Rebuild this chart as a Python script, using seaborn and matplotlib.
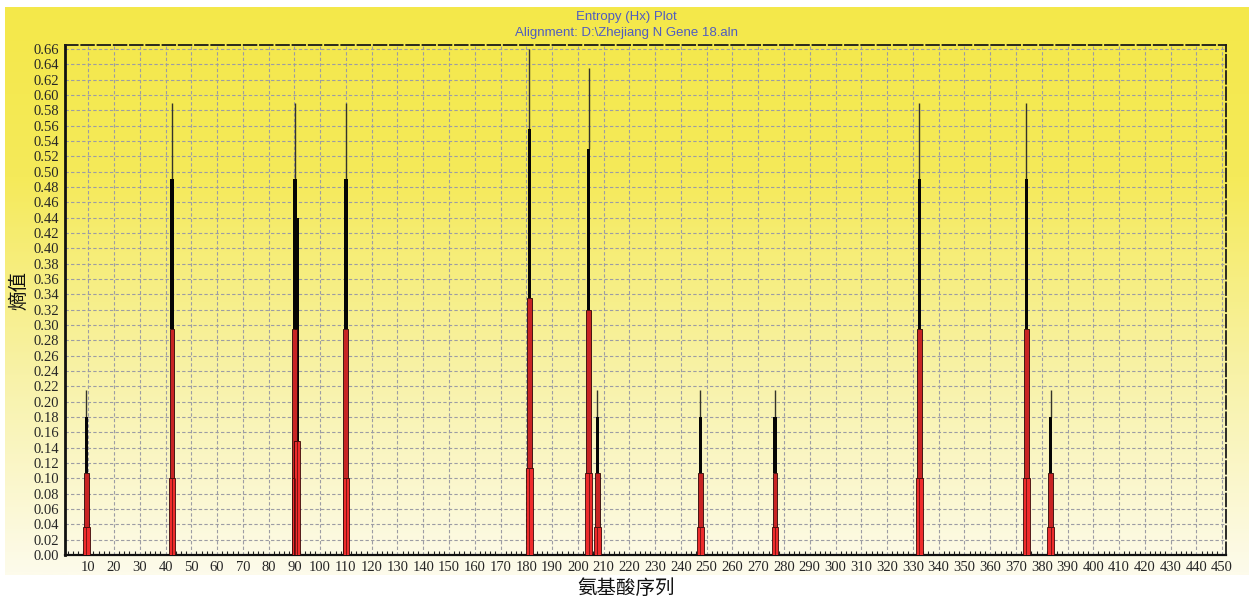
import numpy as np
import matplotlib

matplotlib.use("Agg")
import matplotlib.pyplot as plt
import seaborn as sns
from matplotlib.colors import LinearSegmentedColormap
from matplotlib.ticker import MultipleLocator

# residue positions with non-zero entropy
positions = [9.3, 42.5, 90.2, 91.0, 110.0, 181.2, 204.2, 207.6, 247.5, 276.5, 332.5, 374.0, 383.5]
# four entropy levels drawn as nested spikes (thin line, black bar, dark red bar, red base)
top_vals = [0.215, 0.59, 0.59, 0.44, 0.59, 0.66, 0.635, 0.215, 0.215, 0.215, 0.59, 0.59, 0.215]
black_vals = [0.18, 0.49, 0.49, 0.44, 0.49, 0.555, 0.53, 0.18, 0.18, 0.18, 0.49, 0.49, 0.18]
mid_vals = [0.107, 0.295, 0.295, 0.148, 0.295, 0.335, 0.32, 0.107, 0.107, 0.107, 0.295, 0.295, 0.107]
base_vals = [0.037, 0.10, 0.10, 0.148, 0.10, 0.113, 0.107, 0.037, 0.037, 0.037, 0.10, 0.10, 0.037]

x_ticks = list(range(10, 451, 10))
y_ticks = [round(v * 0.02, 2) for v in range(0, 34)]

sns.set_theme(style="white")
plt.rcParams["font.family"] = ["Liberation Serif", "Noto Sans CJK SC", "DejaVu Sans"]

fig = plt.figure(figsize=(12.49, 5.98), dpi=100, facecolor="white")

# yellow gradient backdrop
bg = fig.add_axes([5 / 1249, 23 / 598, 1244 / 1249, 568 / 598], zorder=-2)
grad_cmap = LinearSegmentedColormap.from_list(
    "yel", [(0.0, "#f4e84a"), (0.3, "#f5ea5a"), (0.65, "#f8f2a8"), (1.0, "#fdfbeb")]
)
bg.imshow(np.linspace(0, 1, 300).reshape(-1, 1), aspect="auto", cmap=grad_cmap,
          extent=[0, 1, 0, 1])
bg.set_axis_off()

ax = fig.add_axes([65 / 1249, 43 / 598, 1161 / 1249, 510 / 598])
ax.set_facecolor("none")

ax.set_xlim(1, 451.5)
ax.set_ylim(0, 0.665)

pos = np.array(positions)
top = np.array(top_vals)
blk = np.array(black_vals)
mid = np.array(mid_vals)
base = np.array(base_vals)

ax.vlines(pos, blk, top, color="#34342a", linewidth=1.0, zorder=2.5)
ax.bar(pos, blk - mid, bottom=mid, width=1.3, color="#050505", linewidth=0, zorder=3)
ax.bar(pos, mid, width=1.9, color="#c82424", edgecolor="#2a0505", linewidth=0.6, zorder=4)
ax.bar(pos, base, width=2.6, color="#ee2c2c", edgecolor="#3a0808", linewidth=0.6, zorder=5)
ax.vlines(pos, 0, base, color="#6a1010", linewidth=0.6, zorder=6)

ax.set_xticks(x_ticks)
ax.set_xticklabels([str(t) for t in x_ticks], fontsize=10.5)
ax.set_yticks(y_ticks)
ax.set_yticklabels([f"{t:.2f}" for t in y_ticks], fontsize=10.5)
ax.xaxis.set_minor_locator(MultipleLocator(2))
ax.tick_params(axis="x", which="minor", direction="in", length=3, width=0.8, color="#222222", bottom=True)
ax.tick_params(axis="both", which="major", length=0, pad=4)

ax.grid(True, which="major", color="#9c9ca4", linestyle=(0, (3, 2)), linewidth=0.8, zorder=1)
ax.set_axisbelow(True)

for side in ["top", "right"]:
    ax.spines[side].set_linestyle((0, (7, 2)))
    ax.spines[side].set_color("#1a1a1a")
    ax.spines[side].set_linewidth(1.3)
ax.spines["left"].set_color("#111111")
ax.spines["left"].set_linewidth(2)
ax.spines["bottom"].set_color("#111111")
ax.spines["bottom"].set_linewidth(1.6)
ax.spines["bottom"].set_linestyle((0, (2, 1)))

fig.text(0.5015, 0.971, "Entropy (Hx) Plot", ha="center", va="center", fontsize=9.5,
         color="#4f5cc0", family=["Liberation Sans", "DejaVu Sans"])
fig.text(0.5015, 0.944, "Alignment: D:\\Zhejiang N Gene 18.aln", ha="center", va="center", fontsize=9.5,
         color="#4f5cc0", family=["Liberation Sans", "DejaVu Sans"])

fig.text(19 / 1249, 1 - 290 / 598, "熵值", rotation=90, ha="center", va="center", fontsize=14,
         family=["Noto Sans CJK SC", "DejaVu Sans"], color="#111111")
fig.text(626 / 1249, 1 - 588 / 598, "氨基酸序列", ha="center", va="center", fontsize=14,
         family=["Noto Sans CJK SC", "DejaVu Sans"], color="#111111")

fig.savefig("out.png", dpi=100, facecolor="white")
